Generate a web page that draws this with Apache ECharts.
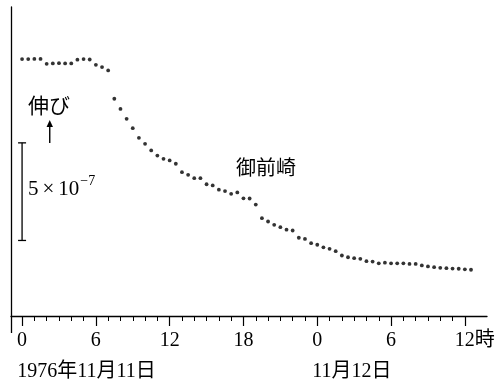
<!DOCTYPE html>
<html>
<head>
<meta charset="utf-8" />
<title>御前崎</title>
<script src="https://cdn.jsdelivr.net/npm/echarts@6/dist/echarts.min.js"></script>
<style>
  html, body { margin: 0; padding: 0; background: #fff; }
  #chart { width: 500px; height: 385px; }
</style>
</head>
<body>
<div id="chart"></div>
<script type="text/javascript">
// 時刻 (1976/11/11 0時からの時間) と 伸び (x10^-7)
var hours = [0, 0.5, 1, 1.5, 2, 2.5, 3, 3.5, 4, 4.5, 5, 5.5, 6, 6.5, 7,
    7.5, 8, 8.5, 9, 9.5, 10, 10.5, 11, 11.5, 12, 12.5, 13, 13.5, 14, 14.5,
    15, 15.5, 16, 16.5, 17, 17.5, 18, 18.5, 19, 19.5, 20, 20.5, 21, 21.5,
    22, 22.5, 23, 23.5, 24, 24.5, 25, 25.5, 26, 26.5, 27, 27.5, 28, 28.5,
    29, 29.5, 30, 30.5, 31, 31.5, 32, 32.5, 33, 33.5, 34, 34.5, 35, 35.5, 36, 36.5];
var strain = [13.16, 13.16, 13.17, 13.17, 12.92, 12.94, 12.95, 12.94, 12.94, 13.13, 13.16, 13.14, 12.87, 12.75, 12.58,
    11.13, 10.61, 10.10, 9.62, 9.13, 8.82, 8.48, 8.22, 8.05, 7.97, 7.80, 7.37, 7.23, 7.06, 7.06,
    6.75, 6.69, 6.47, 6.40, 6.26, 6.33, 6.03, 6.02, 5.71, 5.01, 4.84, 4.67, 4.55, 4.42,
    4.38, 4.01, 3.95, 3.73, 3.65, 3.52, 3.44, 3.32, 3.10, 3.01, 2.96, 2.93, 2.81, 2.79,
    2.70, 2.73, 2.70, 2.70, 2.70, 2.67, 2.67, 2.59, 2.54, 2.50, 2.47, 2.45, 2.43, 2.42, 2.39, 2.37];

// 目盛り
var majorTicks = [0, 6, 12, 18, 24, 30, 36];
var minorTicks = [];
for (var h = 0; h <= 36; h++) minorTicks.push(h);
var dateTicks = [0, 24];
var dateNames = { 0: '1976年11月11日', 24: '11月12日' };

// スケール (5×10^-7) と矢印
var scaleBar = [[0, 3.87, 8.87]];
var arrowUp = [[2.25, 8.86, 10.04]];

var serif = "'Liberation Serif', 'Noto Sans CJK JP', serif";
var cjk = "'Noto Sans CJK JP', sans-serif";

var points = [];
for (var i = 0; i < hours.length; i++) points.push([hours[i], strain[i]]);

var chart = echarts.init(document.getElementById('chart'));

var xMin = -0.9, xMax = 37.8;

var option = {
    animation: false,
    grid: { left: 11, right: 13, top: 7, bottom: 69, containLabel: false, outerBoundsMode: 'none' },
    xAxis: [{
        type: 'value', position: 'bottom', min: xMin, max: xMax,
        axisLine: { show: true, onZero: false, lineStyle: { color: '#000', width: 1.3 } },
        axisTick: { show: true, inside: false, length: 5, customValues: minorTicks, lineStyle: { color: '#000', width: 1 } },
        axisLabel: {
            show: true, customValues: majorTicks, margin: 15,
            color: '#000', fontSize: 20, fontFamily: serif,
            formatter: function (v) {
                if (v === 36) return '{pad|}12{u|時}';
                return String(v % 24);
            },
            rich: {
                pad: { width: 20 },
                u: { fontSize: 20, fontFamily: serif, color: '#000' }
            }
        },
        splitLine: { show: false }
    }, {
        type: 'value', position: 'bottom', min: xMin, max: xMax,
        axisLine: { show: false, onZero: false },
        axisTick: { show: true, inside: false, length: 10, customValues: majorTicks, lineStyle: { color: '#000', width: 1.2 } },
        axisLabel: { show: false },
        splitLine: { show: false }
    }, {
        // 縦軸の下への延長
        type: 'value', position: 'bottom', min: xMin, max: xMax,
        axisLine: { show: false, onZero: false },
        axisTick: { show: true, inside: false, length: 17, customValues: [xMin], lineStyle: { color: '#000', width: 1.3 } },
        axisLabel: { show: false },
        splitLine: { show: false }
    }, {
        // 日付
        type: 'value', position: 'bottom', min: xMin + 0.4, max: xMax + 0.4,
        axisLine: { show: false, onZero: false },
        axisTick: { show: false },
        axisLabel: {
            show: true, customValues: dateTicks, margin: 46, align: 'left',
            color: '#000', fontSize: 20, fontFamily: serif,
            formatter: function (v) { return dateNames[v] || ''; }
        },
        splitLine: { show: false }
    }],
    yAxis: {
        type: 'value', min: 0, max: 15.83,
        axisLine: { show: true, onZero: false, lineStyle: { color: '#000', width: 1.3 } },
        axisTick: { show: false },
        axisLabel: { show: false },
        splitLine: { show: false }
    },
    series: [{
        type: 'scatter',
        data: points,
        symbol: 'circle',
        symbolSize: 3.8,
        itemStyle: { color: '#000' },
        silent: true
    }, {
        type: 'custom',
        data: scaleBar,
        renderItem: function (params, api) {
            var x = api.value(0);
            var top = api.coord([x, api.value(2)]);
            var bot = api.coord([x, api.value(1)]);
            var w = 4;
            var st = { stroke: '#000', lineWidth: 1.3 };
            return {
                type: 'group', children: [
                    { type: 'line', shape: { x1: top[0], y1: top[1], x2: bot[0], y2: bot[1] }, style: st },
                    { type: 'line', shape: { x1: top[0] - w, y1: top[1], x2: top[0] + w, y2: top[1] }, style: st },
                    { type: 'line', shape: { x1: bot[0] - w, y1: bot[1], x2: bot[0] + w, y2: bot[1] }, style: st }
                ]
            };
        },
        silent: true
    }, {
        type: 'custom',
        data: arrowUp,
        renderItem: function (params, api) {
            var x = api.value(0);
            var tip = api.coord([x, api.value(2)]);
            var bot = api.coord([x, api.value(1)]);
            return {
                type: 'group', children: [
                    { type: 'line', shape: { x1: bot[0], y1: bot[1], x2: tip[0], y2: tip[1] + 5 }, style: { stroke: '#000', lineWidth: 1.4 } },
                    { type: 'polygon', shape: { points: [[tip[0], tip[1]], [tip[0] - 3.2, tip[1] + 7], [tip[0] + 3.2, tip[1] + 7]] }, style: { fill: '#000' } }
                ]
            };
        },
        silent: true
    }],
    graphic: [{
        type: 'text', x: 28, y: 95,
        style: { text: '伸び', fill: '#000', font: '21px ' + cjk, textVerticalAlign: 'top' }
    }, {
        type: 'text', x: 236, y: 157,
        style: { text: '御前崎', fill: '#000', font: '20px ' + cjk, textVerticalAlign: 'top' }
    }, {
        type: 'text', x: 28, y: 189,
        style: {
            text: '5{x|×}10{s|−7}', fill: '#000', font: '21px ' + serif, textVerticalAlign: 'middle',
            rich: {
                x: { fontSize: 21, fontFamily: serif, padding: [0, 4, 0, 4] },
                s: { fontSize: 14, fontFamily: serif, padding: [0, 0, 15, 1] }
            }
        }
    }]
};

chart.setOption(option);
</script>
</body>
</html>
